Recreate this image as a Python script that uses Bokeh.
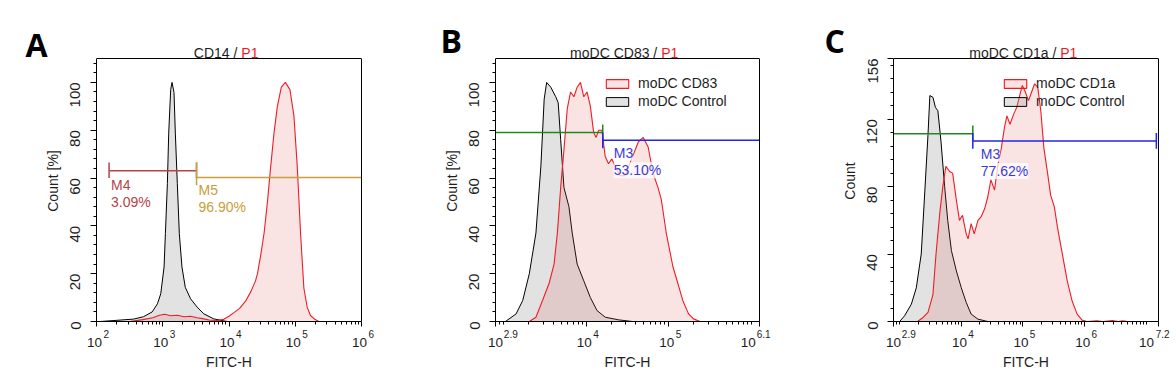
import math
from bokeh.plotting import figure
from bokeh.models import (FixedTicker, CustomJSTickFormatter, Legend, LegendItem, Range1d,
                          LinearAxis, LogAxis, Title, Label)
from bokeh.layouts import row
from bokeh.embed import file_html
from bokeh.resources import INLINE

FONT = "Liberation Sans"
TXT = "#1e1e1e"
RED = "#ee1c24"

# ---------------- data: log10(FITC-H) and counts ----------------
# Panel A  (CD14)
A_ctrl_logx = [2.00, 2.06, 2.31, 2.56, 2.71, 2.84, 2.92, 2.97, 3.02, 3.04, 3.07, 3.09, 3.12, 3.14,
               3.17, 3.19, 3.22, 3.25, 3.29, 3.34, 3.42, 3.52, 3.62, 3.77, 3.97]
A_ctrl_y = [0, 0, 0.5, 1.0, 2.0, 4.0, 7.4, 11.6, 22.8, 36.8, 57.7, 78.8, 97, 100,
            95.7, 78.8, 57.7, 36.8, 22.8, 14.3, 9.5, 6.0, 3.2, 1.1, 0]
A_pos_logx = [2.50, 2.70, 2.85, 2.95, 3.03, 3.12, 3.22, 3.32, 3.42, 3.52, 3.60, 3.70, 3.82, 3.92,
              4.00, 4.08, 4.16, 4.25, 4.33, 4.40, 4.43, 4.48, 4.53, 4.58, 4.63, 4.68, 4.73, 4.79,
              4.85, 4.92, 4.98, 5.03, 5.08, 5.13, 5.18, 5.23, 5.30, 5.36]
A_pos_y = [0, 0.8, 1.6, 2.6, 3.0, 2.4, 2.6, 2.0, 2.2, 1.6, 1.2, 0.6, 0.4, 0.9,
           2.2, 3.8, 5.5, 8.5, 12.5, 17, 20, 28, 37, 50, 65, 79, 90, 98,
           100, 97, 86, 65, 37, 14, 6, 2.5, 0.8, 0]

# Panel B  (moDC CD83)
B_ctrl_logx = [3.02, 3.15, 3.23, 3.31, 3.39, 3.45, 3.49, 3.52, 3.57, 3.63, 3.66, 3.69, 3.73, 3.79,
               3.83, 3.89, 3.97, 4.05, 4.13, 4.23, 4.39, 4.56]
B_ctrl_y = [0, 3.2, 8.8, 20, 37, 65, 93, 100, 98, 94, 91.5, 76, 56, 48,
            37, 24, 17, 10, 4.6, 1.8, 0.7, 0]
B_pos_logx = [3.31, 3.39, 3.47, 3.55, 3.61, 3.65, 3.69, 3.73, 3.77, 3.81, 3.85, 3.89, 3.93, 3.97,
              4.01, 4.05, 4.09, 4.12, 4.15, 4.19, 4.23, 4.27, 4.31, 4.35, 4.41, 4.47, 4.55, 4.63,
              4.69, 4.75, 4.81, 4.87, 4.91, 4.97, 5.01, 5.05, 5.11, 5.17, 5.24, 5.30, 5.38]
B_pos_y = [0, 1.8, 8.8, 16, 24, 37, 56, 72, 89, 96, 94, 98, 100, 94,
           96, 90, 79, 77, 80, 80, 69, 66, 68, 65, 61, 61, 68, 75,
           77, 73, 62, 56, 51, 37, 30, 23, 16, 8.8, 3.2, 1.1, 0]

# Panel C  (moDC CD1a)
C_ctrl_logx = [3.00, 3.08, 3.19, 3.27, 3.35, 3.40, 3.46, 3.49, 3.54, 3.58, 3.62, 3.67, 3.73, 3.78,
               3.84, 3.92, 4.00, 4.08, 4.16, 4.27, 4.43]
C_ctrl_y = [0, 3.4, 10.3, 20, 40, 72, 111, 134, 133, 127, 125, 107, 80, 60,
            42, 30, 20, 11.3, 4.4, 1.4, 0]
C_pos_logx = [3.29, 3.38, 3.46, 3.54, 3.59, 3.65, 3.70, 3.75, 3.81, 3.86, 3.92, 3.97, 4.02, 4.08,
              4.11, 4.16, 4.21, 4.27, 4.32, 4.38, 4.43, 4.48, 4.54, 4.59, 4.65, 4.70, 4.74, 4.79,
              4.85, 4.90, 4.94, 4.99, 5.03, 5.09, 5.14, 5.19, 5.24, 5.29, 5.34, 5.40, 5.45, 5.51,
              5.56, 5.64, 5.72, 5.80, 5.88, 5.96, 6.04, 6.20, 6.30, 6.45, 6.55, 6.62, 6.70]
C_pos_y = [0, 2.4, 5.4, 16, 40, 64, 80, 92, 89, 88, 72, 60, 63, 52,
           49, 58, 52, 60, 62, 67, 74, 84, 78, 92, 103, 115, 122, 117,
           123, 127, 133, 140, 137, 131, 136, 141, 139, 125, 103, 88, 75, 68,
           56, 40, 24, 12, 4.4, 0.8, 0, 0.4, 0, 0.5, 0, 0.4, 0]

# Gates: (start log10, end log10, level, tick low, tick high)
A_M4 = [2.19, 3.51, 63.0, 60.0, 66.5]
A_M5 = [3.51, 6.00, 60.2, 57.0, 66.5]
B_left = [2.90, 4.20, 79.1, 76.0, 82.4]
B_M3 = [4.20, 6.10, 75.8, 72.5, 79.0]
C_left = [2.90, 4.187, 111.4, 107.4, 116.3]
C_M3 = [4.187, 7.165, 107.0, 102.5, 111.8]
gate_text = {"A_M4": ("M4", "3.09%"), "A_M5": ("M5", "96.90%"),
             "B_M3": ("M3", "53.10%"), "C_M3": ("M3", "77.62%")}

CANVAS_TOP = 40      # top of the plotting frame (title row lives inside it)
BOX_TOP = 58         # top of the drawn plot box
FRAME_BOTTOM = 321

TEN_JS = """
const e = Math.log10(tick);
const nb = '\\u00a0';
if (Math.abs(e - Math.round(e)) < 1e-6) return '10' + nb;
if (Math.abs(e - lo) < 1e-6) return '10';
return '10' + nb.repeat(6);
"""
EXP_JS = """
const e = Math.log10(tick);
const nb = '\\u00a0';
const s = (Math.round(e * 10) / 10).toString();
if (Math.abs(e - Math.round(e)) < 1e-6) return nb.repeat(7) + s;
if (Math.abs(e - lo) < 1e-6) return nb.repeat(11) + s;
return nb.repeat(3) + s;
"""


def add_label(p, x, y, text, xo, yo, size="14px", color=TXT, align="left", bg=None):
    kw = dict(background_fill_color=bg, background_fill_alpha=0.75) if bg else {}
    p.add_layout(Label(x=x, y=y, x_offset=xo, y_offset=yo, text=text, text_font=FONT,
                       text_font_size=size, text_color=color, text_align=align,
                       text_baseline="alphabetic", **kw))


def make_panel(c):
    lo, hi = c["xlog"]
    ymax = c["ymax"]
    ytop = ymax * (FRAME_BOTTOM - CANVAS_TOP) / (FRAME_BOTTOM - BOX_TOP)
    p = figure(width=392, height=377, x_axis_type="log",
               x_range=Range1d(10 ** lo, 10 ** hi), y_range=Range1d(0, ytop),
               output_backend="svg", toolbar_location=None,
               min_border_left=c["bl"], min_border_right=c["br"],
               min_border_top=CANVAS_TOP, min_border_bottom=377 - FRAME_BOTTOM)
    p.xgrid.visible = False
    p.ygrid.visible = False
    p.outline_line_color = None
    p.background_fill_color = "white"
    p.border_fill_color = "white"

    # panel letter as the plot title
    p.title = Title(text=c["letter"], align="left", offset=c["letter_off"],
                    text_font="Open Sans", text_font_size="32px", text_font_style="bold",
                    text_color="black", standoff=c["letter_standoff"])

    # x axis: ticks + "10" labels
    majors = c["xmaj"]
    minor = []
    for d in range(int(math.floor(lo)), int(math.ceil(hi)) + 1):
        for k in range(1, 10):
            v = math.log10(k * 10 ** d)
            if lo < v < hi and all(abs(v - m) > 1e-6 for m in majors):
                minor.append(k * 10 ** d)
    xa = p.xaxis[0]
    xa.ticker = FixedTicker(ticks=[10 ** e for e in majors], minor_ticks=minor)
    xa.formatter = CustomJSTickFormatter(args=dict(lo=lo, hi=hi), code=TEN_JS)
    xa.major_tick_in = 0
    xa.major_tick_out = 5
    xa.minor_tick_in = 0
    xa.minor_tick_out = 3
    xa.major_label_standoff = 8
    xa.major_label_text_font = FONT
    xa.major_label_text_font_size = "13.5px"
    xa.major_label_text_color = TXT
    xa.axis_line_color = "black"

    # second x axis carrying the exponents (superscripts) and the axis title
    xe = LogAxis(ticker=FixedTicker(ticks=[10 ** e for e in majors], minor_ticks=[]),
                 formatter=CustomJSTickFormatter(args=dict(lo=lo, hi=hi), code=EXP_JS),
                 axis_line_color=None, major_tick_line_color=None, minor_tick_line_color=None,
                 major_tick_out=0, major_tick_in=0, minor_tick_out=0, minor_tick_in=0,
                 major_label_standoff=-24, major_label_text_font=FONT,
                 major_label_text_font_size="10px", major_label_text_color=TXT,
                 axis_label="FITC-H", axis_label_text_font=FONT, axis_label_text_font_size="14px",
                 axis_label_text_font_style="normal", axis_label_text_color=TXT,
                 axis_label_standoff=11)
    p.add_layout(xe, "below")

    # y axis (bounded to the plot box)
    ya = p.yaxis[0]
    ymaj = c["ymaj"]
    step = c["ystep"]
    yminor = [v for v in range(0, int(ymax) + 1, step) if v not in ymaj]
    ya.bounds = (0, ymax)
    ya.ticker = FixedTicker(ticks=ymaj, minor_ticks=yminor)
    ya.major_label_orientation = math.pi / 2
    ya.major_label_text_font = FONT
    ya.major_label_text_font_size = "15px"
    ya.major_label_text_color = TXT
    ya.major_label_standoff = 15
    ya.major_tick_in = 0
    ya.major_tick_out = 6
    ya.minor_tick_in = 0
    ya.minor_tick_out = 3
    ya.axis_label = c["ylabel"]
    ya.axis_label_text_font = FONT
    ya.axis_label_text_font_size = "14px"
    ya.axis_label_text_font_style = "normal"
    ya.axis_label_text_color = TXT
    ya.axis_label_standoff = 2
    ya.axis_line_color = "black"

    # right edge of the plot box
    ra = LinearAxis(bounds=(0, ymax), ticker=FixedTicker(ticks=[], minor_ticks=[]),
                    formatter=CustomJSTickFormatter(code="return ''"),
                    major_tick_out=0, major_tick_in=0, minor_tick_out=0, minor_tick_in=0,
                    major_label_standoff=0, axis_line_color="black")
    p.add_layout(ra, "right")
    # top edge of the plot box
    p.segment(x0=[10 ** lo], y0=[ymax], x1=[10 ** hi], y1=[ymax], line_color="black", line_width=1)

    # title (two colours) just above the plot box
    add_label(p, 10 ** lo, ymax, c["title"] + " /", c["tsplit"][0], 5.3, align="right")
    add_label(p, 10 ** lo, ymax, "P1", c["tsplit"][1], 5.3, color=RED)

    # histograms
    cx, cy = c["ctrl"]
    rx, ry = c["pos"]
    r_ctrl = p.patch([10 ** v for v in cx], cy, fill_color="#a0a0a0", fill_alpha=0.3,
                     line_color="black", line_width=1)
    r_pos = p.patch([10 ** v for v in rx], ry, fill_color="#e05050", fill_alpha=0.16,
                    line_color=RED, line_width=1.1)

    # gates
    for g, col, ends in c["gates"]:
        s, e, lev, tl, th = g
        p.segment(x0=[10 ** s], y0=[lev], x1=[10 ** e], y1=[lev], line_color=col, line_width=1.5)
        for pos in ends:
            xv = 10 ** (s if pos == "s" else e)
            p.segment(x0=[xv], y0=[tl], x1=[xv], y1=[th], line_color=col, line_width=1.5)
    for key, g, col, xo, yo1, yo2, bg in c["gate_labels"]:
        for txt, yo in zip(gate_text[key], (yo1, yo2)):
            add_label(p, 10 ** g[0], g[2], txt, xo, yo, color=col, bg=bg)

    if c["legend"]:
        legend = Legend(items=[LegendItem(label=c["legend"][0], renderers=[r_pos]),
                               LegendItem(label=c["legend"][1], renderers=[r_ctrl])],
                        location=(c["legend_x"], 212), padding=0, margin=0, spacing=2,
                        glyph_width=28, glyph_height=11, label_height=16, label_standoff=7,
                        label_text_font=FONT, label_text_font_size="14px",
                        label_text_color=TXT, background_fill_alpha=0, border_line_alpha=0)
        p.add_layout(legend)
    return p


BLUE = "#2424e6"
panels = [
    dict(letter="A", title="CD14", xlog=(2, 6), xmaj=[2, 3, 4, 5, 6], ymax=110,
         ymaj=[0, 20, 40, 60, 80, 100], ystep=4, ylabel="Count [%]", bl=96, br=31,
         ctrl=(A_ctrl_logx, A_ctrl_y), pos=(A_pos_logx, A_pos_y),
         gates=[(A_M4, "#b5434b", ["s", "e"]), (A_M5, "#c9a03a", ["s"])],
         gate_labels=[("A_M4", A_M4, "#b5434b", 2, -14, -31, None),
                      ("A_M5", A_M5, "#c9a03a", 2, -12.5, -29.5, None)],
         tsplit=(140.9, 144.8), letter_off=-71, letter_standoff=-51, legend=None),
    dict(letter="B", title="moDC CD83", xlog=(2.9, 6.1), xmaj=[2.9, 4, 5, 6.1], ymax=110,
         ymaj=[0, 20, 40, 60, 80, 100], ystep=4, ylabel="Count [%]", bl=103, br=25,
         ctrl=(B_ctrl_logx, B_ctrl_y), pos=(B_pos_logx, B_pos_y),
         gates=[(B_left, "#1e8a1e", ["e"]), (B_M3, BLUE, ["s"])],
         gate_labels=[("B_M3", B_M3, "#3a3ad6", 11, -12.6, -30, "white")],
         tsplit=(161.75, 165.65), letter_off=-55, letter_standoff=-43,
         legend=("moDC CD83", "moDC Control"), legend_x=108),
    dict(letter="C", title="moDC CD1a", xlog=(2.9, 7.2), xmaj=[2.9, 4, 5, 6, 7.2], ymax=156,
         ymaj=[0, 40, 80, 120, 156], ystep=8, ylabel="Count", bl=109, br=18,
         ctrl=(C_ctrl_logx, C_ctrl_y), pos=(C_pos_logx, C_pos_y),
         gates=[(C_left, "#1e8a1e", ["e"]), (C_M3, BLUE, ["s", "e"])],
         gate_labels=[("C_M3", C_M3, "#3a3ad6", 8, -12.6, -30, "white")],
         tsplit=(162.85, 166.75), letter_off=-69, letter_standoff=-43,
         legend=("moDC CD1a", "moDC Control"), legend_x=108),
]

figs = [make_panel(c) for c in panels]
layout = row(*figs, spacing=0)
open("out.html", "w").write(file_html(layout, INLINE))
